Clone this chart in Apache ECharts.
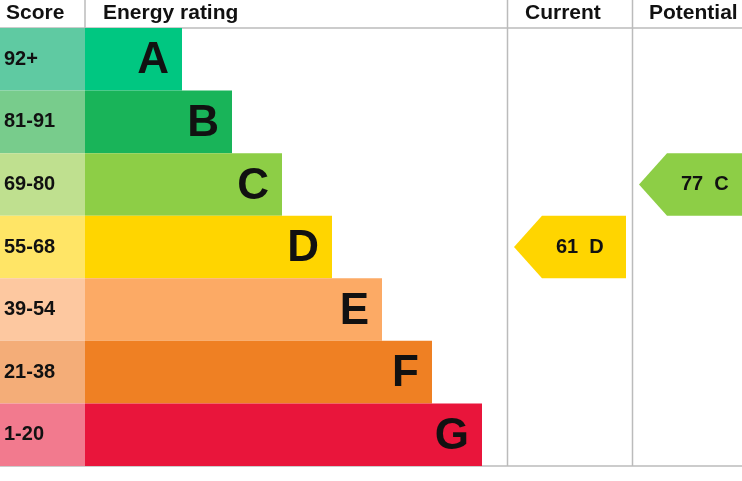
<!DOCTYPE html>
<html><head><meta charset="utf-8">
<script src="https://cdn.jsdelivr.net/npm/echarts@6/dist/echarts.min.js"></script>
<style>html,body{margin:0;background:#fff}#main{width:742px;height:481px}</style>
</head><body><div id="main"></div>
<script>
var bands = ['A', 'B', 'C', 'D', 'E', 'F', 'G'];
var scores = ['92+', '81-91', '69-80', '55-68', '39-54', '21-38', '1-20'];
var barEnds = [182, 232, 282, 332, 382, 432, 482];
var bandColors = ['#00c781', '#19b459', '#8dce46', '#ffd500', '#fcaa65', '#ef8023', '#e9153b'];
var scoreColors = ['#5fcaa2', '#78cc8c', '#bfe08f', '#ffe566', '#fdc8a0', '#f4ad78', '#f27a8e'];
var current = { value: 61, band: 'D' };
var potential = { value: 77, band: 'C' };

var scoreW = 85, curX = [514, 626], potX = [639, 745];
var font = 'Liberation Sans, Arial, sans-serif';

var chart = echarts.init(document.getElementById('main'));

function arrow(params, api) {
  var row = api.value(0), x0 = api.value(1), x1 = api.value(2);
  var top = api.coord([0, row])[1] - api.size([0, 1])[1] / 2;
  var h = api.size([0, 1])[1];
  var p0 = api.coord([x0, row])[0], p1 = api.coord([x1, row])[0];
  var tip = 28, band = api.value(4);
  return {
    type: 'group',
    children: [{
      type: 'polygon',
      shape: { points: [[p0, top + h / 2], [p0 + tip, top], [p1, top], [p1, top + h], [p0 + tip, top + h]] },
      style: { fill: bandColors[band] }
    }, {
      type: 'text',
      style: { x: p0 + tip + 14, y: top + h / 2, text: api.value(3) + '  ' + bands[band],
        fill: '#111', font: 'bold 20px ' + font, verticalAlign: 'middle' }
    }]
  };
}

chart.setOption({
  animation: false,
  grid: { left: 0, right: 0, top: 28, bottom: 15 },
  xAxis: { type: 'value', min: 0, max: 742, show: false },
  yAxis: { type: 'category', data: bands, inverse: true, show: false },
  graphic: [
    { type: 'text', left: 6, top: 3, style: { text: 'Score', font: 'bold 21px ' + font, fill: '#111' } },
    { type: 'text', left: 103, top: 3, style: { text: 'Energy rating', font: 'bold 21px ' + font, fill: '#111' } },
    { type: 'text', left: 525, top: 3, style: { text: 'Current', font: 'bold 21px ' + font, fill: '#111' } },
    { type: 'text', left: 649, top: 3, style: { text: 'Potential', font: 'bold 21px ' + font, fill: '#111' } },
    { type: 'line', shape: { x1: 0, y1: 28, x2: 742, y2: 28 }, style: { stroke: '#bbb', lineWidth: 1.5 } },
    { type: 'line', shape: { x1: 0, y1: 466, x2: 742, y2: 466 }, style: { stroke: '#bbb', lineWidth: 1.5 } },
    { type: 'line', shape: { x1: 85, y1: 0, x2: 85, y2: 28 }, style: { stroke: '#bbb', lineWidth: 1.5 } },
    { type: 'line', shape: { x1: 507.5, y1: 0, x2: 507.5, y2: 466 }, style: { stroke: '#bbb', lineWidth: 1.5 } },
    { type: 'line', shape: { x1: 632.5, y1: 0, x2: 632.5, y2: 466 }, style: { stroke: '#bbb', lineWidth: 1.5 } }
  ],
  series: [{
    type: 'bar', stack: 'r', barCategoryGap: 0,
    data: scores.map(function (s, i) {
      return { value: scoreW, itemStyle: { color: scoreColors[i] },
        label: { formatter: s } };
    }),
    label: { show: true, position: 'insideLeft', offset: [-1, 0], color: '#111', fontFamily: font, fontWeight: 'bold', fontSize: 20 }
  }, {
    type: 'bar', stack: 'r', barCategoryGap: 0,
    data: barEnds.map(function (e, i) { return { value: e - scoreW, itemStyle: { color: bandColors[i] } }; }),
    label: { show: true, position: 'insideRight', offset: [-8, 2], formatter: function (p) { return bands[p.dataIndex]; },
      color: '#111', fontFamily: font, fontWeight: 'bold', fontSize: 44 }
  }, {
    type: 'custom', renderItem: arrow,
    data: [
      [bands.indexOf(current.band), curX[0], curX[1], current.value, bands.indexOf(current.band)],
      [bands.indexOf(potential.band), potX[0], potX[1], potential.value, bands.indexOf(potential.band)]
    ]
  }]
});
</script></body></html>
